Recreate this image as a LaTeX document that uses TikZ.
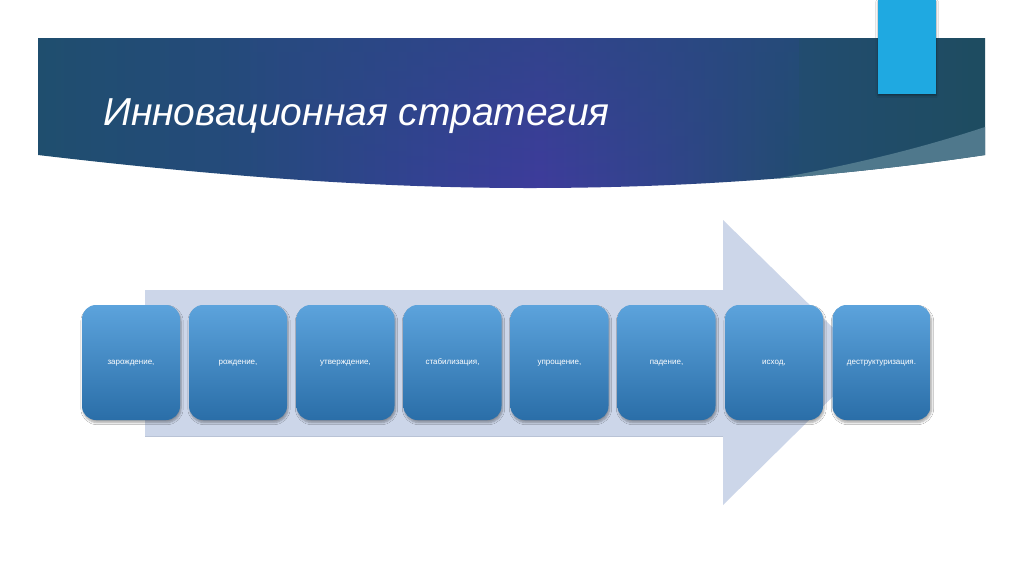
\documentclass[tikz,border=0pt]{standalone}
\usepackage{fontspec}
\setmainfont{Liberation Sans}
\usetikzlibrary{shadows.blur,fadings}
\definecolor{strip}{HTML}{4F788C}
\definecolor{accent}{HTML}{1FA9E1}
\definecolor{arrowfill}{HTML}{CCD6E9}
\definecolor{arrowedge}{HTML}{B9C3D6}
\definecolor{boxtop}{HTML}{5CA3DC}
\definecolor{boxbot}{HTML}{2A6EA8}
\definecolor{bnA}{HTML}{1F4E6E}
\definecolor{bnB}{HTML}{254A7C}
\definecolor{bnC}{HTML}{334292}
\definecolor{bnD}{HTML}{3E3C9C}
\definecolor{bnE}{HTML}{32448C}
\definecolor{bnF}{HTML}{224C70}
\definecolor{bnG}{HTML}{1E4C60}
\definecolor{bnTop}{HTML}{284A80}
\pgfdeclarehorizontalshading{bannershade}{100bp}{
  color(0bp)=(bnA);
  color(25bp)=(bnA);
  color(36bp)=(bnB);
  color(45bp)=(bnC);
  color(51.5bp)=(bnD);
  color(58bp)=(bnE);
  color(65bp)=(bnF);
  color(75bp)=(bnG);
  color(100bp)=(bnG)}
\tikzset{
  stagebox/.style={rounded corners=14pt, minimum width=98pt, minimum height=115pt,
    top color=boxtop, bottom color=boxbot, draw=none,
    blur shadow={shadow xshift=1pt, shadow yshift=-2.5pt, shadow blur steps=6, shadow opacity=35},
    text=white, font=\fontsize{8}{9}\selectfont, inner sep=0pt, text height=6pt, text depth=2pt},
  titletext/.style={text=white, font=\fontsize{39}{44}\selectfont\itshape, anchor=base west, inner sep=0pt}
}
\begin{document}
\begin{tikzpicture}[x=1pt,y=-1pt]
\useasboundingbox (0,0) rectangle (1024,574);
\fill[white] (0,0) rectangle (1024,574);
% banner
\begin{scope}
  \clip (38,38) -- (985,38) -- (985,155)
     .. controls (850,175) and (700,188) .. (530,188)
     .. controls (400,188) and (250,180) .. (38,155) -- cycle;
  \shade[shading=bannershade] (38,30) rectangle (985,200);
  \fill[bnTop, path fading=south, fill opacity=0.55] (250,38) rectangle (800,190);
  \fill[strip] (985,127) .. controls (900,155) and (820,172) .. (700,192) -- (700,250) -- (1000,250) -- (1000,127) -- cycle;
\end{scope}
% accent bar
\fill[accent, blur shadow={shadow xshift=0pt, shadow yshift=-1.5pt, shadow blur steps=4, shadow opacity=40}] (878,0) rectangle (936,94);
% title
\node[titletext] (title) at (103,125) {Инновационная стратегия};
% arrow
\fill[arrowfill] (145,290) -- (723,290) -- (723,220) -- (868,362) -- (723,505) -- (723,436) -- (145,436) -- cycle;
\draw[arrowedge, line width=0.8pt] (145,436.5) -- (723,436.5);
% stages
\node[stagebox] (b1) at (131,362.5) {зарождение,};
\node[stagebox] (b2) at (238,362.5) {рождение,};
\node[stagebox] (b3) at (345.5,362.5) {утверждение,};
\node[stagebox] (b4) at (452.5,362.5) {стабилизация,};
\node[stagebox] (b5) at (559.5,362.5) {упрощение,};
\node[stagebox] (b6) at (666.5,362.5) {падение,};
\node[stagebox] (b7) at (774,362.5) {исход,};
\node[stagebox] (b8) at (881.5,362.5) {деструктуризация.};
\end{tikzpicture}
\end{document}
